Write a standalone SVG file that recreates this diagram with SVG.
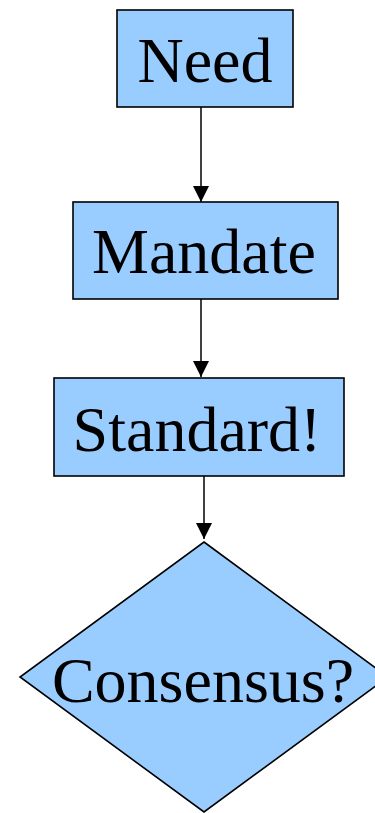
<svg xmlns="http://www.w3.org/2000/svg" width="375" height="813" viewBox="0 0 375 813">
<style>
.n{fill:#99ccff;stroke:#000;stroke-width:1.6}
.t{font-family:"Liberation Serif","Times New Roman",serif;font-size:64px;fill:#000;text-anchor:middle}
.c{stroke:#000;stroke-width:1.5;fill:none}
</style>
<defs>
<marker id="ah" markerUnits="userSpaceOnUse" markerWidth="16" markerHeight="16" refX="14" refY="7" orient="auto" viewBox="0 0 14 14">
<path d="M0,0 L14,7 L0,14 Z" fill="#000"/>
</marker>
</defs>
<rect width="375" height="813" fill="#fff"/>
<g id="connectors">
<line class="c" x1="201" y1="107" x2="201" y2="202" marker-end="url(#ah)"/>
<line class="c" x1="201" y1="299" x2="201" y2="377" marker-end="url(#ah)"/>
<line class="c" x1="204" y1="476" x2="204" y2="539" marker-end="url(#ah)"/>
</g>
<g id="need">
<rect class="n" x="117" y="10" width="176" height="97"/>
<text class="t" x="205" y="82">Need</text>
</g>
<g id="mandate">
<rect class="n" x="73" y="202" width="265" height="97"/>
<text class="t" x="204" y="273">Mandate</text>
</g>
<g id="standard">
<rect class="n" x="54" y="378" width="290" height="98"/>
<text class="t" x="197" y="451">Standard!</text>
</g>
<g id="consensus">
<polygon class="n" points="204,542 388,677 204,812 20,677"/>
<text class="t" x="203" y="702">Consensus?</text>
</g>
</svg>
